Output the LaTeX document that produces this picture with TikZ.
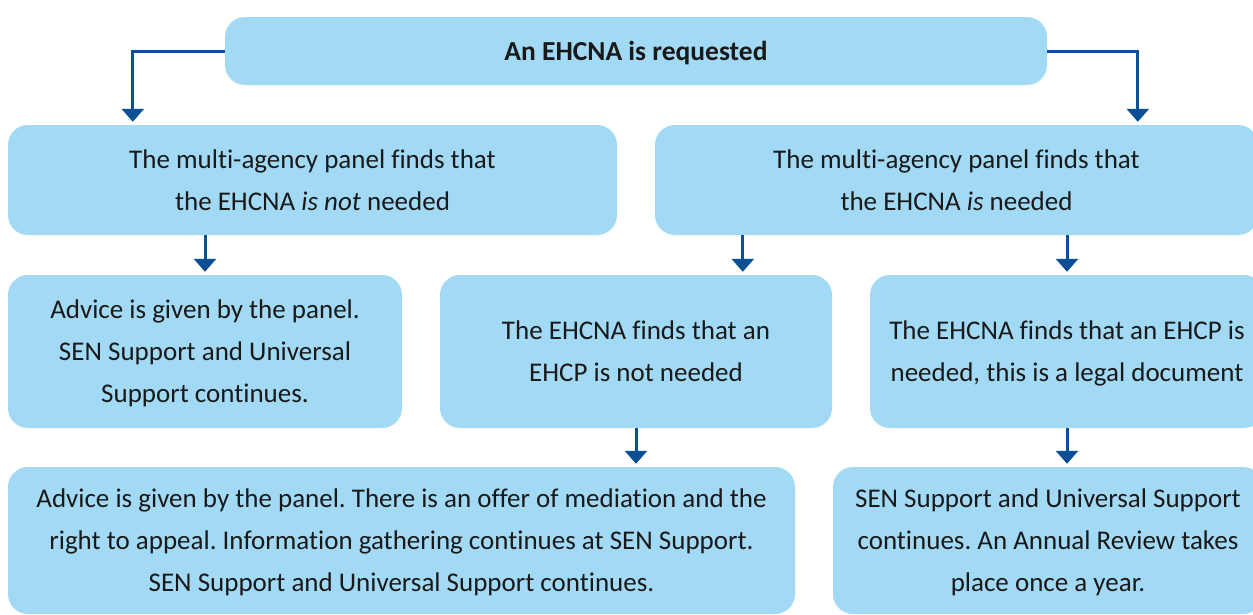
\documentclass[tikz,border=0pt]{standalone}
\usepackage{fontspec}
\setmainfont[Ligatures=NoCommon]{Carlito}
\usetikzlibrary{arrows.meta}

\definecolor{boxblue}{HTML}{A2DAF5}
\definecolor{arrowblue}{HTML}{0B4F94}

\tikzset{
  stage/.style={fill=boxblue, rounded corners=20pt, align=center, inner sep=0pt,
    text=black!90, font=\fontsize{27}{42}\selectfont\frenchspacing, text depth=-3pt},
  flow/.style={arrowblue, line width=3pt, -{Triangle[width=22pt,length=13pt]}, shorten >=3pt},
}

\begin{document}
\begin{tikzpicture}[x=1pt,y=-1pt]
\useasboundingbox (0,0) rectangle (1253,614);
% Etapas del proceso EHCNA
\node[stage, minimum width=822pt, minimum height=68pt, font=\fontsize{27.5}{42}\selectfont\bfseries] (req) at (636,51) {An EHCNA is requested};
\node[stage, minimum width=609pt, minimum height=110pt] (notneeded) at (312.5,180) {The multi-agency panel finds that\\the EHCNA \textit{is not} needed};
\node[stage, minimum width=603pt, minimum height=110pt] (needed) at (956.5,180) {The multi-agency panel finds that\\the EHCNA \textit{is} needed};
\node[stage, minimum width=394pt, minimum height=153pt] (advice) at (205,351.5) {Advice is given by the panel.\\SEN Support and Universal\\Support continues.};
\node[stage, minimum width=392pt, minimum height=153pt] (noplan) at (636,351.5) {The EHCNA finds that an\\EHCP is not needed};
\node[stage, minimum width=394pt, minimum height=153pt] (plan) at (1067,351.5) {The EHCNA finds that an EHCP is\\needed, this is a legal document};
\node[stage, minimum width=787pt, minimum height=147pt] (mediation) at (401.5,540.5) {Advice is given by the panel. There is an offer of mediation and the\\right to appeal. Information gathering continues at SEN Support.\\SEN Support and Universal Support continues.};
\node[stage, minimum width=430pt, minimum height=147pt] (review) at (1048,540.5) {SEN Support and Universal Support\\continues. An Annual Review takes\\place once a year.};
% Flechas
\draw[flow] (req.west) -| ([xshift=125pt]notneeded.north west);
\draw[flow] (req.east) -| ([xshift=483pt]needed.north west);
\draw[flow] (notneeded.south -| advice.north) -- (advice.north);
\draw[flow] ([xshift=88pt]needed.south west) -- ([xshift=303pt]noplan.north west);
\draw[flow] (needed.south -| plan.north) -- (plan.north);
\draw[flow] (noplan.south) -- (noplan.south |- mediation.north);
\draw[flow] (plan.south) -- (plan.south |- review.north);
\end{tikzpicture}
\end{document}
